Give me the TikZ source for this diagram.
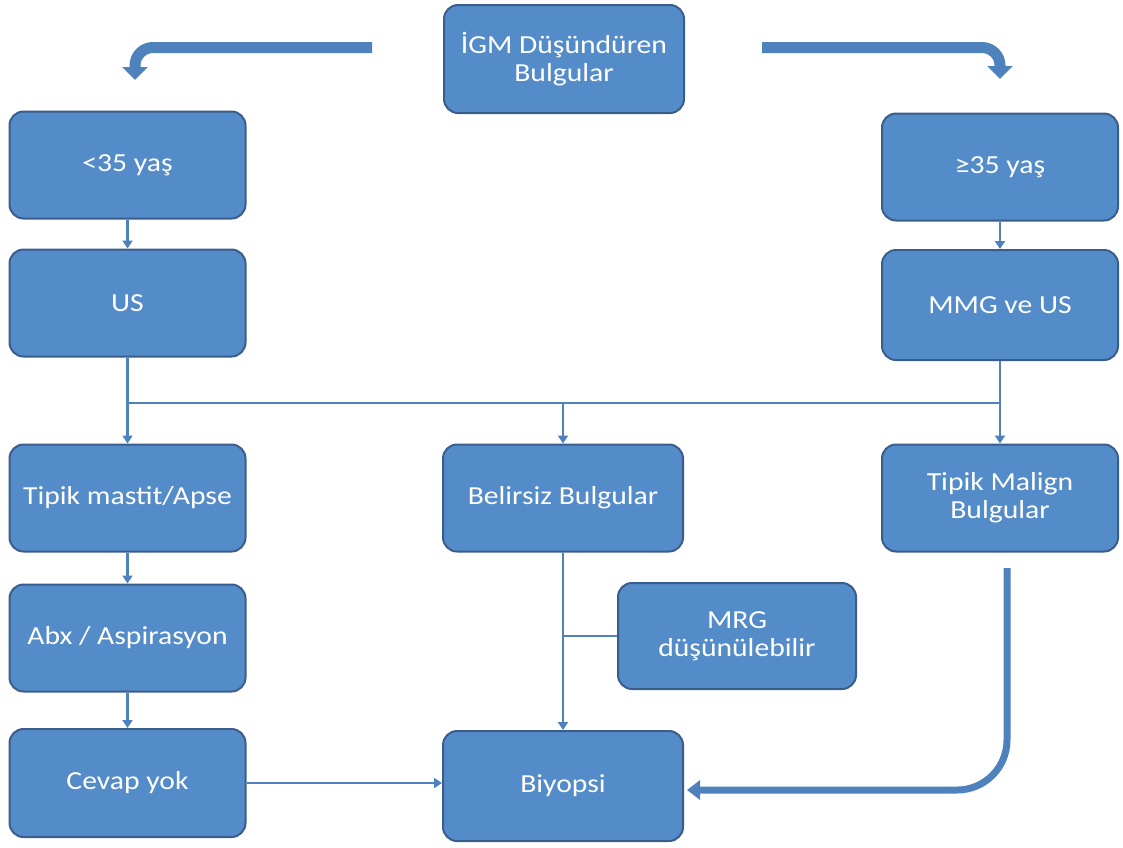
\documentclass[tikz,border=0pt]{standalone}
\usepackage{fontspec}
\setmainfont{Carlito}[FakeStretch=1.14]
\usetikzlibrary{arrows.meta,calc}
\definecolor{boxfill}{RGB}{84,139,201}
\definecolor{boxline}{RGB}{58,94,140}
\definecolor{connc}{RGB}{79,129,189}
\begin{document}
\begin{tikzpicture}[x=1pt,y=-1pt,
  box/.style={draw=boxline, line width=2pt, fill=boxfill, rounded corners=14pt,
    text=white, font=\fontsize{26}{28}\selectfont, align=center, inner sep=0pt,
    minimum width=236pt, minimum height=107pt},
  link/.style={draw=connc, line width=2.8pt},
  conn/.style={link, -{Triangle[width=10pt,length=8pt]}},
  bigarrow/.style={draw=connc, line width=11pt, -{Triangle[width=25pt,length=13pt]}},
  thickconn/.style={draw=connc, line width=7pt, -{Triangle[width=19pt,length=13pt]}}]
\useasboundingbox (0,0) rectangle (1123,847);

\node[box, minimum width=240pt, minimum height=108pt] (igm) at (564,59) {İGM Düşündüren\\Bulgular};
\node[box] (lt35) at (127.5,165) {<35 yaş};
\node[box] (ge35) at (1000,167) {≥35 yaş};
\node[box] (us) at (127.5,303) {US};
\node[box, minimum height=110pt] (mmg) at (1000,305) {MMG ve US};
\node[box] (mastit) at (127.5,498) {Tipik mastit/Apse};
\node[box, minimum width=240pt] (belirsiz) at (563,498) {Belirsiz Bulgular};
\node[box] (malign) at (1000,498) {Tipik Malign\\Bulgular};
\node[box] (abx) at (127.5,638) {Abx / Aspirasyon};
\node[box, minimum width=238pt, minimum height=106pt] (mrg) at (737,636) {MRG\\düşünülebilir};
\node[box, minimum height=108pt] (cevap) at (127.5,783) {Cevap yok};
\node[box, minimum width=240pt, minimum height=110pt] (biyopsi) at (563,786) {Biyopsi};

% top block arrows
\coordinate (ls) at (372,47.5);
\coordinate (le) at (135,80);
\coordinate (rs) at (762,47.5);
\coordinate (re) at (1000,79);
\draw[bigarrow, rounded corners=18pt] (ls) -| (le);
\draw[bigarrow, rounded corners=18pt] (rs) -| (re);

% columns
\draw[conn] (lt35) -- (us);
\draw[conn] (ge35) -- (mmg);
\coordinate (jl) at (127.5,403);
\coordinate (jm) at (563,403);
\coordinate (jr) at (1000,403);
\draw[link] (us.south) -- (jl) -- (jr) -- (mmg.south);
\draw[conn] (jl) -- (mastit.north);
\draw[conn] (jm) -- (belirsiz.north);
\draw[conn] (jr) -- (malign.north);
\draw[conn] (mastit) -- (abx);
\draw[conn] (abx) -- (cevap);
\draw[conn] (cevap.east) -- (cevap.east -| biyopsi.west);
\draw[conn] (belirsiz) -- (biyopsi);
\draw[link] (mrg.west) -- (mrg.west -| belirsiz.south);

% malign to biyopsi
\coordinate (ms) at (1007,568);
\coordinate (be) at ($(biyopsi.east)+(3,4)$);
\draw[thickconn, rounded corners=50pt] (ms) |- (be);
\end{tikzpicture}
\end{document}
